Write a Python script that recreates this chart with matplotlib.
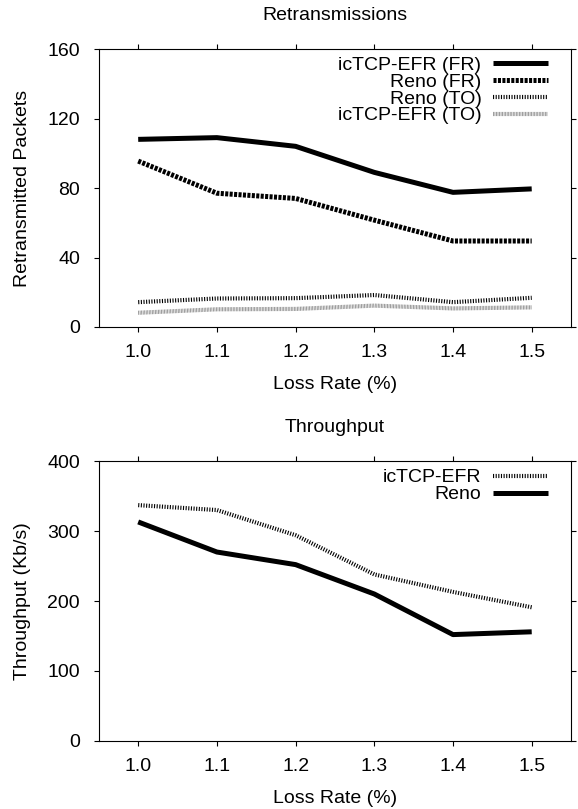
import matplotlib
matplotlib.use("Agg")
import matplotlib.pyplot as plt

plt.rcParams["font.family"] = ["Liberation Sans", "DejaVu Sans"]
plt.rcParams["lines.scale_dashes"] = False

loss_rate = [1.0, 1.1, 1.2, 1.3, 1.4, 1.5]

# retransmitted packets
ictcp_fr = [108, 109, 104, 89, 77.5, 79.5]
reno_fr = [95.5, 77, 74, 61.5, 49.5, 49.5]
reno_to = [14.3, 16.4, 16.6, 18.4, 14.3, 16.8]
ictcp_to = [8.2, 10.2, 10.4, 12.3, 10.7, 11.3]

# throughput (Kb/s)
ictcp_tput = [337, 330, 294, 238, 213, 191]
reno_tput = [313, 270, 252, 210, 152, 156]

x_ticks = [1.0, 1.1, 1.2, 1.3, 1.4, 1.5]

fig = plt.figure(figsize=(5.78, 8.09), dpi=100)
ax1 = fig.add_axes([0.171, 0.5958, 0.817, 0.3436])
ax2 = fig.add_axes([0.171, 0.0841, 0.817, 0.346])

FS = 14


def style_axes(ax, title, ylabel, yticks):
    ax.set_xlim(0.95, 1.55)
    ax.set_ylim(yticks[0], yticks[-1])
    ax.set_xticks(x_ticks)
    ax.set_xticklabels([f"{v:.1f}" for v in x_ticks])
    ax.set_yticks(yticks)
    ax.tick_params(direction="out", length=3.6, width=0.8, labelsize=FS,
                   top=True, right=True)
    ax.tick_params(axis="x", pad=8.5)
    ax.tick_params(axis="y", pad=10)
    for sp in ax.spines.values():
        sp.set_linewidth(0.8)
    ax.set_title(title, fontsize=FS, pad=21)
    ax.set_xlabel("Loss Rate (%)", fontsize=FS, labelpad=11)
    ax.set_ylabel(ylabel, fontsize=FS, labelpad=12)


def add_legend(ax, y_anchor):
    ax.legend(loc="upper right", frameon=False, markerfirst=False, fontsize=FS,
              handlelength=2.85, handletextpad=0.57, labelspacing=-0.04,
              borderpad=0, borderaxespad=0, bbox_to_anchor=(0.951, y_anchor))


ax1.plot(loss_rate, ictcp_fr, color="black", lw=3.6, solid_capstyle="butt",
         label="icTCP-EFR (FR)")
ax1.plot(loss_rate, reno_fr, color="black", lw=3.6, dashes=(2.2, 1.0),
         dash_capstyle="butt", label="Reno (FR)")
ax1.plot(loss_rate, reno_to, color="black", lw=3.0, dashes=(0.8, 1.1),
         dash_capstyle="butt", label="Reno (TO)")
ax1.plot(loss_rate, ictcp_to, color="#8c8c8c", lw=3.0, dashes=(0.6, 0.5),
         dash_capstyle="butt", label="icTCP-EFR (TO)")
style_axes(ax1, "Retransmissions", "Retransmitted Packets", [0, 40, 80, 120, 160])
add_legend(ax1, 0.974)

ax2.plot(loss_rate, ictcp_tput, color="black", lw=3.0, dashes=(0.8, 1.1),
         dash_capstyle="butt", label="icTCP-EFR")
ax2.plot(loss_rate, reno_tput, color="black", lw=3.6, solid_capstyle="butt",
         label="Reno")
style_axes(ax2, "Throughput", "Throughput (Kb/s)", [0, 100, 200, 300, 400])
add_legend(ax2, 0.972)

fig.savefig("out.png", dpi=100)
